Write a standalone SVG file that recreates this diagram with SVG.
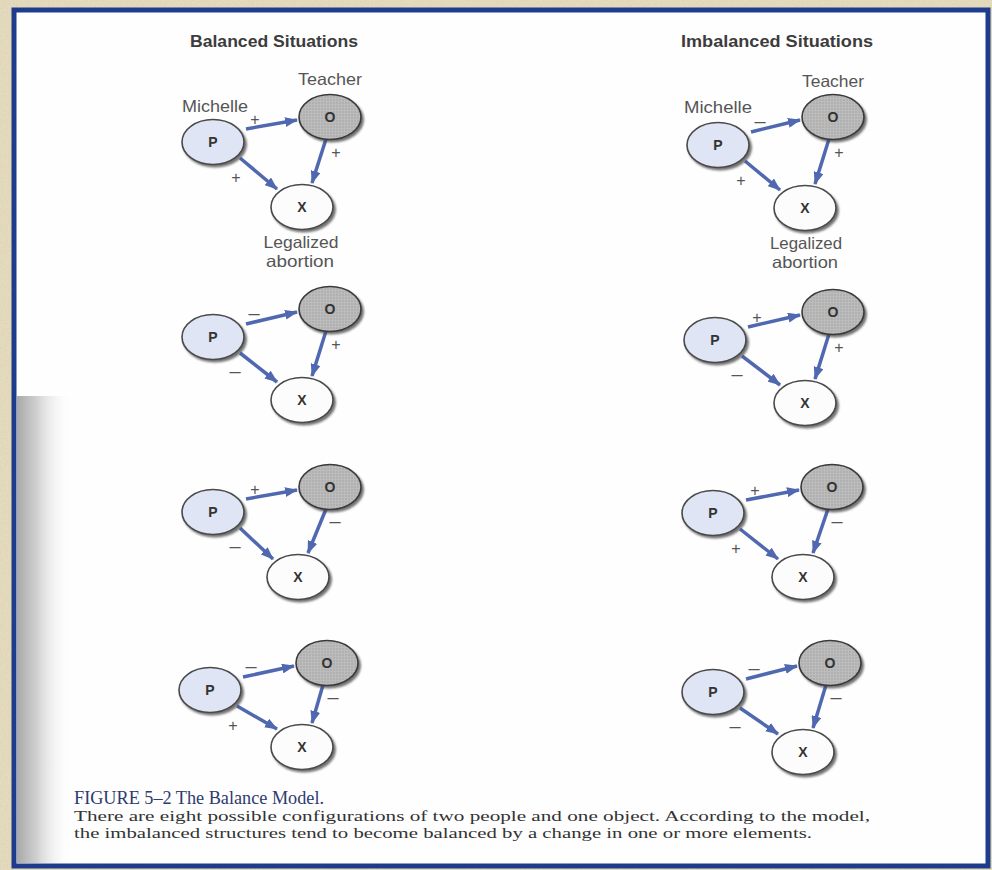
<svg xmlns="http://www.w3.org/2000/svg" width="992" height="870" viewBox="0 0 992 870">
  <style>
    .head { font-family: "Liberation Sans", Arial, sans-serif; font-weight: bold; font-size: 16px; fill: #3c3c3c; text-anchor: middle; }
    .lbl { font-family: "Liberation Sans", Arial, sans-serif; font-size: 16.5px; fill: #555; text-anchor: middle; }
    .letter { font-family: "Liberation Sans", Arial, sans-serif; font-weight: bold; font-size: 14px; fill: #333; text-anchor: middle; dominant-baseline: central; }
    .sign { font-family: "Liberation Sans", Arial, sans-serif; font-size: 16px; fill: #555; text-anchor: middle; dominant-baseline: central; }
    .minus { font-family: "Liberation Sans", Arial, sans-serif; font-size: 20px; fill: #555; text-anchor: middle; dominant-baseline: central; }
    .shadow { fill: #444; opacity: 0.75; }
    .p { fill: #dfe5f4; stroke: #4a4a4a; stroke-width: 1.6; }
    .o { fill: url(#stipple); stroke: #3a3a3a; stroke-width: 1.6; }
    .x { fill: #fcfcfc; stroke: #4a4a4a; stroke-width: 1.6; }
    .arrow { stroke: #5068b0; stroke-width: 3.5; fill: none; marker-end: url(#head); }
    .cap-title { font-family: "Liberation Serif", "Times New Roman", serif; font-size: 18px; fill: #2f3a6e; }
    .cap { font-family: "Liberation Serif", "Times New Roman", serif; font-size: 14.5px; fill: #333; }
  </style>
  <defs>
    <marker id="head" markerUnits="userSpaceOnUse" markerWidth="13" markerHeight="10" refX="12" refY="5" orient="auto">
      <path d="M0,0 L13,5 L0,10 z" fill="#5068b0"/>
    </marker>
    <pattern id="stipple" width="3" height="3" patternUnits="userSpaceOnUse">
      <rect width="3" height="3" fill="#bcbcbc"/>
      <circle cx="1" cy="1" r="0.7" fill="#9a9a9a"/>
    </pattern>
    <linearGradient id="band" x1="0" y1="0" x2="1" y2="0">
      <stop offset="0" stop-color="#a9a9a9"/>
      <stop offset="0.35" stop-color="#cfcfcf"/>
      <stop offset="1" stop-color="#ffffff" stop-opacity="0"/>
    </linearGradient>
    <filter id="paper" x="0" y="0" width="100%" height="100%">
      <feTurbulence type="fractalNoise" baseFrequency="0.6" numOctaves="2" result="n"/>
      <feColorMatrix in="n" type="matrix" values="0 0 0 0 0.55  0 0 0 0 0.48  0 0 0 0 0.3  0 0 0 0.35 0"/>
    </filter>
    <filter id="soft"><feGaussianBlur stdDeviation="0.8"/></filter>
  </defs>

  <!-- page background and frame -->
  <rect width="992" height="870" fill="#e9dfc3"/>
  <rect width="992" height="870" filter="url(#paper)"/>
  <rect x="14" y="10" width="974" height="856" fill="#fefefe" stroke="#1d3c8c" stroke-width="5"/>
  <rect x="17" y="396" width="55" height="467" fill="url(#band)"/>

  <!-- column headings -->
  <text class="head" x="274" y="47" textLength="168" lengthAdjust="spacingAndGlyphs">Balanced Situations</text>
  <text class="head" x="777" y="47" textLength="192" lengthAdjust="spacingAndGlyphs">Imbalanced Situations</text>

  <!-- labels of the first pair -->
  <g id="labels">
    <text class="lbl" x="330" y="85" textLength="64" lengthAdjust="spacingAndGlyphs">Teacher</text>
    <text class="lbl" x="215" y="112" textLength="66" lengthAdjust="spacingAndGlyphs">Michelle</text>
    <text class="lbl" x="301" y="248" textLength="75" lengthAdjust="spacingAndGlyphs">Legalized</text>
    <text class="lbl" x="300" y="267" textLength="68" lengthAdjust="spacingAndGlyphs">abortion</text>
    <text class="lbl" x="833" y="87" textLength="62" lengthAdjust="spacingAndGlyphs">Teacher</text>
    <text class="lbl" x="718" y="113" textLength="68" lengthAdjust="spacingAndGlyphs">Michelle</text>
    <text class="lbl" x="806" y="249" textLength="72" lengthAdjust="spacingAndGlyphs">Legalized</text>
    <text class="lbl" x="805" y="268" textLength="66" lengthAdjust="spacingAndGlyphs">abortion</text>
  </g>

  <!-- connectors -->
  <g id="connectors">
    <line class="arrow" x1="246" y1="129" x2="297" y2="120"/>
    <line class="arrow" x1="240" y1="158" x2="277" y2="189"/>
    <line class="arrow" x1="326" y1="139" x2="312" y2="183"/>

    <line class="arrow" x1="751" y1="132" x2="800" y2="120"/>
    <line class="arrow" x1="745" y1="161" x2="780" y2="190"/>
    <line class="arrow" x1="829" y1="139" x2="815" y2="184"/>

    <line class="arrow" x1="246" y1="324" x2="297" y2="312"/>
    <line class="arrow" x1="240" y1="353" x2="277" y2="382"/>
    <line class="arrow" x1="326" y1="331" x2="312" y2="376"/>

    <line class="arrow" x1="748" y1="327" x2="800" y2="315"/>
    <line class="arrow" x1="742" y1="356" x2="780" y2="385"/>
    <line class="arrow" x1="829" y1="334" x2="815" y2="379"/>

    <line class="arrow" x1="246" y1="499" x2="297" y2="490"/>
    <line class="arrow" x1="240" y1="528" x2="273" y2="559"/>
    <line class="arrow" x1="326" y1="509" x2="308" y2="553"/>

    <line class="arrow" x1="746" y1="500" x2="799" y2="490"/>
    <line class="arrow" x1="740" y1="529" x2="778" y2="559"/>
    <line class="arrow" x1="828" y1="509" x2="813" y2="553"/>

    <line class="arrow" x1="243" y1="677" x2="294" y2="666"/>
    <line class="arrow" x1="237" y1="706" x2="277" y2="729"/>
    <line class="arrow" x1="323" y1="685" x2="312" y2="723"/>

    <line class="arrow" x1="746" y1="679" x2="797" y2="666"/>
    <line class="arrow" x1="740" y1="708" x2="778" y2="734"/>
    <line class="arrow" x1="826" y1="685" x2="813" y2="728"/>
  </g>

  <!-- signs on the relations -->
  <g id="signs">
    <text class="sign" x="255" y="119">+</text><text class="sign" x="236" y="177">+</text><text class="sign" x="336" y="152">+</text>
    <text class="minus" x="760" y="121">–</text><text class="sign" x="741" y="180">+</text><text class="sign" x="839" y="152">+</text>
    <text class="minus" x="254" y="313">–</text><text class="minus" x="235" y="371">–</text><text class="sign" x="336" y="344">+</text>
    <text class="sign" x="757" y="317">+</text><text class="minus" x="737" y="374">–</text><text class="sign" x="839" y="347">+</text>
    <text class="sign" x="255" y="489">+</text><text class="minus" x="235" y="546">–</text><text class="minus" x="335" y="521">–</text>
    <text class="sign" x="755" y="490">+</text><text class="sign" x="736" y="548">+</text><text class="minus" x="837" y="521">–</text>
    <text class="minus" x="251" y="666">–</text><text class="sign" x="233" y="725">+</text><text class="minus" x="333" y="697">–</text>
    <text class="minus" x="754" y="668">–</text><text class="minus" x="735" y="726">–</text><text class="minus" x="836" y="697">–</text>
  </g>

  <!-- nodes: P (person), O (other), X (object) for each of the eight triads -->
  <g id="b1-p"><ellipse class="shadow" cx="215" cy="144.5" rx="32" ry="23" filter="url(#soft)"/><ellipse class="p" cx="213" cy="142" rx="31" ry="22.5"/><text class="letter" x="213" y="142">P</text></g>
  <g id="b1-o"><ellipse class="shadow" cx="332" cy="119.5" rx="32" ry="23" filter="url(#soft)"/><ellipse class="o" cx="330" cy="117" rx="31" ry="22.5"/><text class="letter" x="330" y="117">O</text></g>
  <g id="b1-x"><ellipse class="shadow" cx="304" cy="209.5" rx="32" ry="23" filter="url(#soft)"/><ellipse class="x" cx="302" cy="207" rx="31" ry="22.5"/><text class="letter" x="302" y="207">X</text></g>

  <g id="i1-p"><ellipse class="shadow" cx="720" cy="147.5" rx="32" ry="23" filter="url(#soft)"/><ellipse class="p" cx="718" cy="145" rx="31" ry="22.5"/><text class="letter" x="718" y="145">P</text></g>
  <g id="i1-o"><ellipse class="shadow" cx="835" cy="119.5" rx="32" ry="23" filter="url(#soft)"/><ellipse class="o" cx="833" cy="117" rx="31" ry="22.5"/><text class="letter" x="833" y="117">O</text></g>
  <g id="i1-x"><ellipse class="shadow" cx="807" cy="210.5" rx="32" ry="23" filter="url(#soft)"/><ellipse class="x" cx="805" cy="208" rx="31" ry="22.5"/><text class="letter" x="805" y="208">X</text></g>

  <g id="b2-p"><ellipse class="shadow" cx="215" cy="339.5" rx="32" ry="23" filter="url(#soft)"/><ellipse class="p" cx="213" cy="337" rx="31" ry="22.5"/><text class="letter" x="213" y="337">P</text></g>
  <g id="b2-o"><ellipse class="shadow" cx="332" cy="311.5" rx="32" ry="23" filter="url(#soft)"/><ellipse class="o" cx="330" cy="309" rx="31" ry="22.5"/><text class="letter" x="330" y="309">O</text></g>
  <g id="b2-x"><ellipse class="shadow" cx="304" cy="402.5" rx="32" ry="23" filter="url(#soft)"/><ellipse class="x" cx="302" cy="400" rx="31" ry="22.5"/><text class="letter" x="302" y="400">X</text></g>

  <g id="i2-p"><ellipse class="shadow" cx="717" cy="342.5" rx="32" ry="23" filter="url(#soft)"/><ellipse class="p" cx="715" cy="340" rx="31" ry="22.5"/><text class="letter" x="715" y="340">P</text></g>
  <g id="i2-o"><ellipse class="shadow" cx="835" cy="314.5" rx="32" ry="23" filter="url(#soft)"/><ellipse class="o" cx="833" cy="312" rx="31" ry="22.5"/><text class="letter" x="833" y="312">O</text></g>
  <g id="i2-x"><ellipse class="shadow" cx="807" cy="405.5" rx="32" ry="23" filter="url(#soft)"/><ellipse class="x" cx="805" cy="403" rx="31" ry="22.5"/><text class="letter" x="805" y="403">X</text></g>

  <g id="b3-p"><ellipse class="shadow" cx="215" cy="514.5" rx="32" ry="23" filter="url(#soft)"/><ellipse class="p" cx="213" cy="512" rx="31" ry="22.5"/><text class="letter" x="213" y="512">P</text></g>
  <g id="b3-o"><ellipse class="shadow" cx="332" cy="489.5" rx="32" ry="23" filter="url(#soft)"/><ellipse class="o" cx="330" cy="487" rx="31" ry="22.5"/><text class="letter" x="330" y="487">O</text></g>
  <g id="b3-x"><ellipse class="shadow" cx="300" cy="579.5" rx="32" ry="23" filter="url(#soft)"/><ellipse class="x" cx="298" cy="577" rx="31" ry="22.5"/><text class="letter" x="298" y="577">X</text></g>

  <g id="i3-p"><ellipse class="shadow" cx="715" cy="515.5" rx="32" ry="23" filter="url(#soft)"/><ellipse class="p" cx="713" cy="513" rx="31" ry="22.5"/><text class="letter" x="713" y="513">P</text></g>
  <g id="i3-o"><ellipse class="shadow" cx="834" cy="489.5" rx="32" ry="23" filter="url(#soft)"/><ellipse class="o" cx="832" cy="487" rx="31" ry="22.5"/><text class="letter" x="832" y="487">O</text></g>
  <g id="i3-x"><ellipse class="shadow" cx="805" cy="579.5" rx="32" ry="23" filter="url(#soft)"/><ellipse class="x" cx="803" cy="577" rx="31" ry="22.5"/><text class="letter" x="803" y="577">X</text></g>

  <g id="b4-p"><ellipse class="shadow" cx="212" cy="692.5" rx="32" ry="23" filter="url(#soft)"/><ellipse class="p" cx="210" cy="690" rx="31" ry="22.5"/><text class="letter" x="210" y="690">P</text></g>
  <g id="b4-o"><ellipse class="shadow" cx="329" cy="665.5" rx="32" ry="23" filter="url(#soft)"/><ellipse class="o" cx="327" cy="663" rx="31" ry="22.5"/><text class="letter" x="327" y="663">O</text></g>
  <g id="b4-x"><ellipse class="shadow" cx="304" cy="749.5" rx="32" ry="23" filter="url(#soft)"/><ellipse class="x" cx="302" cy="747" rx="31" ry="22.5"/><text class="letter" x="302" y="747">X</text></g>

  <g id="i4-p"><ellipse class="shadow" cx="715" cy="694.5" rx="32" ry="23" filter="url(#soft)"/><ellipse class="p" cx="713" cy="692" rx="31" ry="22.5"/><text class="letter" x="713" y="692">P</text></g>
  <g id="i4-o"><ellipse class="shadow" cx="832" cy="665.5" rx="32" ry="23" filter="url(#soft)"/><ellipse class="o" cx="830" cy="663" rx="31" ry="22.5"/><text class="letter" x="830" y="663">O</text></g>
  <g id="i4-x"><ellipse class="shadow" cx="805" cy="754.5" rx="32" ry="23" filter="url(#soft)"/><ellipse class="x" cx="803" cy="752" rx="31" ry="22.5"/><text class="letter" x="803" y="752">X</text></g>

  <!-- caption -->
  <g id="caption">
    <text class="cap-title" x="74" y="804" textLength="250" lengthAdjust="spacingAndGlyphs">FIGURE 5–2  The Balance Model.</text>
    <text class="cap" x="74" y="821" textLength="796" lengthAdjust="spacingAndGlyphs">There are eight possible configurations of two people and one object. According to the model,</text>
    <text class="cap" x="74" y="838" textLength="738" lengthAdjust="spacingAndGlyphs">the imbalanced structures tend to become balanced by a change in one or more elements.</text>
  </g>
</svg>
